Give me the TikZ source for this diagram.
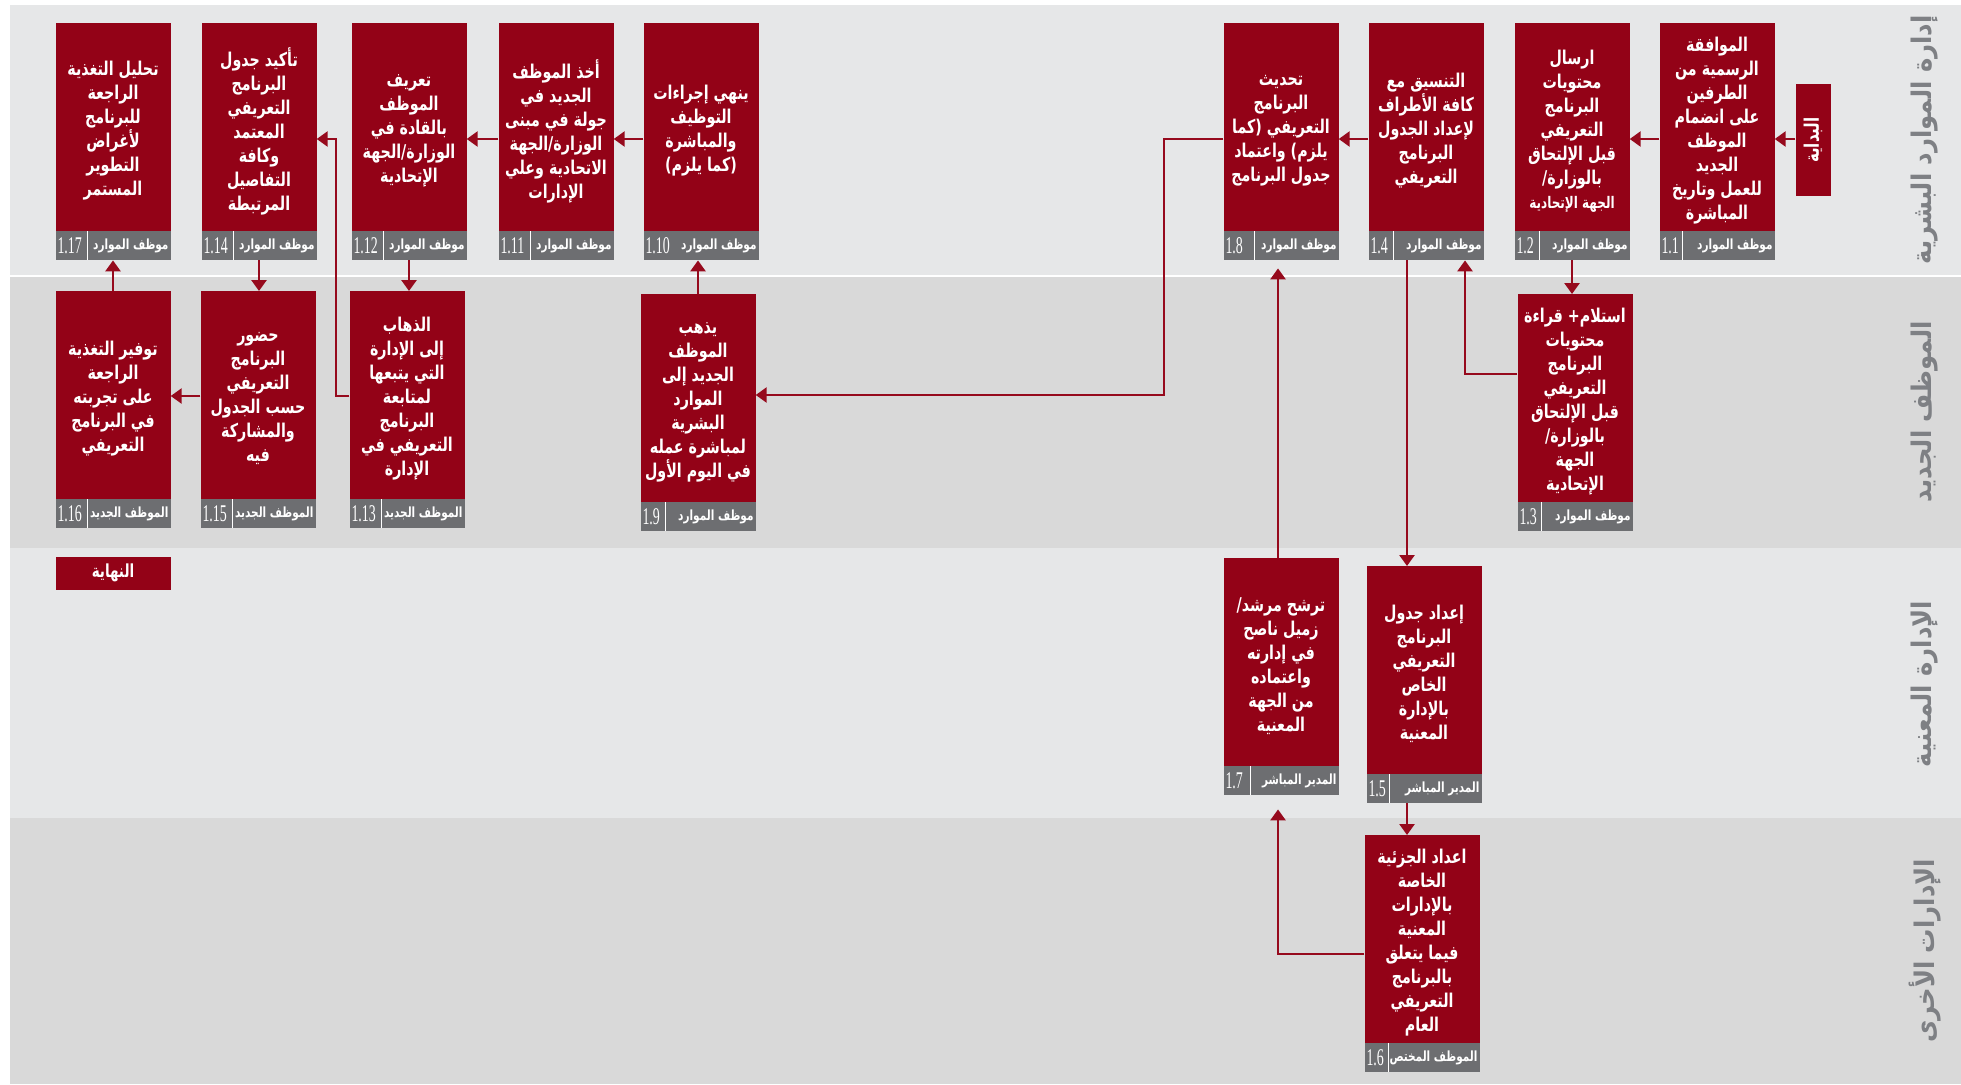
\documentclass[tikz,border=0pt]{standalone}
\usepackage{fontspec}
\usepackage{graphicx}
\usetikzlibrary{arrows.meta,calc}
\TeXXeTstate=1
\newfontfamily\arfont[Script=Arabic,FakeStretch=0.75]{DejaVu Sans}
\newfontfamily\lanefont[Script=Arabic,FakeStretch=0.9]{DejaVu Sans}
\newfontfamily\numfont[FakeStretch=0.58]{Liberation Serif}
\newcommand\rl[1]{\beginR #1\endR}
\definecolor{boxred}{HTML}{930217}
\definecolor{arrred}{HTML}{960A1D}
\definecolor{footgray}{HTML}{6D6E71}
\definecolor{lanelight}{HTML}{E6E7E8}
\definecolor{lanedark}{HTML}{D9D9D9}
\definecolor{lanetext}{HTML}{7E8084}
\tikzset{
  redbox/.style={rectangle, fill=boxred, draw=none, inner sep=0pt, minimum width=115pt, minimum height=237pt},
  footbox/.style={rectangle, fill=footgray, draw=none, inner sep=0pt, minimum width=115pt, minimum height=29pt},
  bodytext/.style={text=white, align=center, inner sep=0pt, font={\arfont\bfseries\fontsize{19}{24}\selectfont}},
  numtext/.style={text=white, inner sep=0pt, font={\numfont\fontsize{24}{24}\selectfont}},
  roletext/.style={text=white, inner sep=0pt, font={\arfont\bfseries\fontsize{14}{14}\selectfont}},
  divline/.style={draw=white, line width=1.2pt},
  arr/.style={draw=arrred, line width=2.6pt, -{Triangle[length=11pt,width=15pt]}},
  lanelabel/.style={text=lanetext, inner sep=0pt, font={\lanefont\bfseries\fontsize{27}{27}\selectfont}},
  endbox/.style={rectangle, fill=boxred, text=white, inner sep=0pt, font={\arfont\bfseries\fontsize{20}{20}\selectfont}}
}
\newcommand\pbox[7]{%
  \node[redbox, anchor=north] (#1) at (#2,#3) {};
  \node[footbox, anchor=south] (#1f) at (#1.south) {};
  \node[bodytext, yshift=-4pt] (#1t) at ($(#1.north)!0.5!(#1f.north)$) {#7};
  \node[numtext, anchor=west] (#1n) at ([xshift=2pt]#1f.west) {#4};
  \node[roletext, anchor=east] (#1r) at ([xshift=-2pt]#1f.east) {#5};
  \ifx&#6&\else\draw[divline] ([xshift=#6pt]#1f.north west) -- ([xshift=#6pt]#1f.south west);\fi
}
\begin{document}
\begin{tikzpicture}[x=1pt,y=-1pt]
\useasboundingbox (0,0) rectangle (1961,1084);
% lanes
\fill[lanelight] (10,5) rectangle (1961,276);
\fill[lanedark] (10,276) rectangle (1961,548);
\fill[lanelight] (10,548) rectangle (1961,818);
\fill[lanedark] (10,818) rectangle (1961,1084);
\draw[white, line width=1.5pt] (10,276) -- (1961,276);
% lane labels
\node[lanelabel, rotate=90] (L1) at (1925,140) {\beginR إدارة الموارد البشرية\endR};
\node[lanelabel, rotate=90] (L2) at (1925,412) {\beginR الموظف الجديد\endR};
\node[lanelabel, rotate=90] (L3) at (1925,684) {\beginR الإدارة المعنية\endR};
\node[lanelabel, rotate=90] (L4) at (1925,951) {\beginR الإدارات الأخرى\endR};
% start / end
\node[endbox, minimum width=35pt, minimum height=112pt] (start) at (1813,140) {\rotatebox{90}{\beginR البداية\endR}};
\node[endbox, minimum width=115pt, minimum height=33pt, font={\arfont\bfseries\fontsize{18}{18}\selectfont}] (finish) at (113,573) {\beginR النهاية\endR};
% row 1
\pbox{n11}{1717}{23}{1.1}{\beginR موظف الموارد\endR}{23}{\beginR الموافقة\endR\\\beginR الرسمية من\endR\\\beginR الطرفين\endR\\\beginR على انضمام\endR\\\beginR الموظف\endR\\\beginR الجديد\endR\\\beginR للعمل وتاريخ\endR\\\beginR المباشرة\endR}
\pbox{n12}{1572}{23}{1.2}{\beginR موظف الموارد\endR}{25}{\beginR ارسال\endR\\\beginR محتويات\endR\\\beginR البرنامج\endR\\\beginR التعريفي\endR\\\beginR قبل الإلتحاق\endR\\\beginR بالوزارة/\endR\\{\fontsize{16}{21}\selectfont\beginR الجهة الإتحادية\endR}}
\pbox{n14}{1426}{23}{1.4}{\beginR موظف الموارد\endR}{25}{\beginR التنسيق مع\endR\\\beginR كافة الأطراف\endR\\\beginR لإعداد الجدول\endR\\\beginR البرنامج\endR\\\beginR التعريفي\endR}
\pbox{n18}{1281}{23}{1.8}{\beginR موظف الموارد\endR}{31}{\beginR تحديث\endR\\\beginR البرنامج\endR\\\beginR التعريفي (كما\endR\\\beginR يلزم) واعتماد\endR\\\beginR جدول البرنامج\endR}
\pbox{n110}{701}{23}{1.10}{\beginR موظف الموارد\endR}{}{\beginR ينهي إجراءات\endR\\\beginR التوظيف\endR\\\beginR والمباشرة\endR\\\beginR (كما يلزم)\endR}
\pbox{n111}{556}{23}{1.11}{\beginR موظف الموارد\endR}{32}{\beginR أخذ الموظف\endR\\\beginR الجديد في\endR\\\beginR جولة في مبنى\endR\\\beginR الوزارة/الجهة\endR\\\beginR الاتحادية وعلي\endR\\\beginR الإدارات\endR}
\pbox{n112}{409}{23}{1.12}{\beginR موظف الموارد\endR}{32}{\beginR تعريف\endR\\\beginR الموظف\endR\\\beginR بالقادة في\endR\\\beginR الوزارة/الجهة\endR\\\beginR الإتحادية\endR}
\pbox{n114}{259}{23}{1.14}{\beginR موظف الموارد\endR}{32}{\beginR تأكيد جدول\endR\\\beginR البرنامج\endR\\\beginR التعريفي\endR\\\beginR المعتمد\endR\\\beginR وكافة\endR\\\beginR التفاصيل\endR\\\beginR المرتبطة\endR}
\pbox{n117}{113}{23}{1.17}{\beginR موظف الموارد\endR}{32}{\beginR تحليل التغذية\endR\\\beginR الراجعة\endR\\\beginR للبرنامج\endR\\\beginR لأغراض\endR\\\beginR التطوير\endR\\\beginR المستمر\endR}
% row 2
\pbox{n13}{1575}{294}{1.3}{\beginR موظف الموارد\endR}{24}{\beginR استلام+ قراءة\endR\\\beginR محتويات\endR\\\beginR البرنامج\endR\\\beginR التعريفي\endR\\\beginR قبل الإلتحاق\endR\\\beginR بالوزارة/\endR\\\beginR الجهة\endR\\\beginR الإتحادية\endR}
\pbox{n19}{698}{294}{1.9}{\beginR موظف الموارد\endR}{25}{\beginR يذهب\endR\\\beginR الموظف\endR\\\beginR الجديد إلى\endR\\\beginR الموارد\endR\\\beginR البشرية\endR\\\beginR لمباشرة عمله\endR\\\beginR في اليوم الأول\endR}
\pbox{n113}{407}{291}{1.13}{\beginR الموظف الجديد\endR}{32}{\beginR الذهاب\endR\\\beginR إلى الإدارة\endR\\\beginR التي يتبعها\endR\\\beginR لمتابعة\endR\\\beginR البرنامج\endR\\\beginR التعريفي في\endR\\\beginR الإدارة\endR}
\pbox{n115}{258}{291}{1.15}{\beginR الموظف الجديد\endR}{32}{\beginR حضور\endR\\\beginR البرنامج\endR\\\beginR التعريفي\endR\\\beginR حسب الجدول\endR\\\beginR والمشاركة\endR\\\beginR فيه\endR}
\pbox{n116}{113}{291}{1.16}{\beginR الموظف الجديد\endR}{32}{\beginR توفير التغذية\endR\\\beginR الراجعة\endR\\\beginR على تجربته\endR\\\beginR في البرنامج\endR\\\beginR التعريفي\endR}
% row 3
\pbox{n17}{1281}{558}{1.7}{\beginR المدير المباشر\endR}{27}{\beginR ترشح مرشد/\endR\\\beginR زميل ناصح\endR\\\beginR في إدارته\endR\\\beginR واعتماده\endR\\\beginR من الجهة\endR\\\beginR المعنية\endR}
\pbox{n15}{1424}{566}{1.5}{\beginR المدير المباشر\endR}{23}{\beginR إعداد جدول\endR\\\beginR البرنامج\endR\\\beginR التعريفي\endR\\\beginR الخاص\endR\\\beginR بالإدارة\endR\\\beginR المعنية\endR}
% row 4
\pbox{n16}{1422}{835}{1.6}{\beginR الموظف المختص\endR}{24}{\beginR اعداد الجزئية\endR\\\beginR الخاصة\endR\\\beginR بالإدارات\endR\\\beginR المعنية\endR\\\beginR فيما يتعلق\endR\\\beginR بالبرنامج\endR\\\beginR التعريفي\endR\\\beginR العام\endR}
% helper coordinates
\coordinate (ya) at (0,139);
\coordinate (yb) at (0,396);
\coordinate (c34) at (1465,374);
\coordinate (c45) at (1407,0);
\coordinate (c67) at (1278,954);
\coordinate (c89a) at (1164,139);
\coordinate (c89b) at (1164,395);
\coordinate (c1314) at (336,396);
% connectors
\draw[arr] (start.west |- ya) -- (n11.east |- ya);
\draw[arr] (n11.west |- ya) -- (n12.east |- ya);
\draw[arr] (n12.south) -- (n12.south |- n13.north);
\draw[arr] (c34 -| n13.west) -- (c34) -- (c34 |- n14.south);
\draw[arr] (n14.west |- ya) -- (n18.east |- ya);
\draw[arr] (n14.south -| c45) -- (n15.north -| c45);
\draw[arr] (n15.south -| c45) -- (n16.north -| c45);
\draw[arr, shorten >=14pt] (c67 -| n16.west) -- (c67) -- (c67 |- n17.south);
\draw[arr, shorten >=8pt] (n17.north -| c67) -- (n18.south -| c67);
\draw[arr] (c89a -| n18.west) -- (c89a) -- (c89b) -- (c89b -| n19.east);
\draw[arr] (n19.north) -- (n19.north |- n110.south);
\draw[arr] (n110.west |- ya) -- (n111.east |- ya);
\draw[arr] (n111.west |- ya) -- (n112.east |- ya);
\draw[arr] (n112.south) -- (n112.south |- n113.north);
\draw[arr] (c1314 -| n113.west) -- (c1314) -- (c1314 |- ya) -- (n114.east |- ya);
\draw[arr] (n114.south) -- (n114.south |- n115.north);
\draw[arr] (n115.west |- yb) -- (n116.east |- yb);
\draw[arr] (n116.north) -- (n116.north |- n117.south);
\end{tikzpicture}
\end{document}
